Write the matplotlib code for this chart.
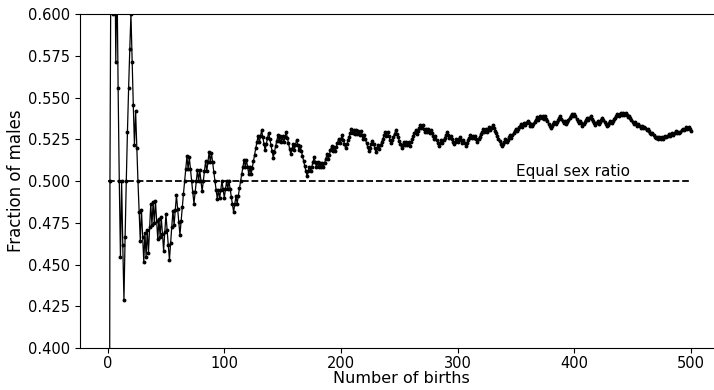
import numpy as np
import matplotlib
matplotlib.use("Agg")
import matplotlib.pyplot as plt

# sex of each birth in order, 1 = male, 0 = female (blocks of 10)
births_str = (
    "0111010100" "0100111111" "0001000010" "0101011010" "1001010011"
    "0001110110" "0011111101" "0000111010" "0111011010" "0000101100"
    "1101000011" "0111111010" "0101111110" "1100011100" "0011110101"
    "0110000110" "1100100000" "0110111001" "0101011101" "1101011101"
    "1000111110" "1010101001" "0000111000" "1101111101" "0001111000"
    "0011010101" "1111011101" "0010101000" "1000110111" "1001000110"
    "1100100111" "1010100111" "1101011011" "0000000011" "1011101111"
    "0111011011" "0010111101" "1010100000" "1110111100" "0101111101"
    "0000100111" "1011000011" "0111000011" "1011111011" "0101001000"
    "0100100101" "0010001000" "1010101101" "1011011010" "1110110100"
)
births = np.array([int(c) for c in births_str])
n_births = np.arange(1, len(births) + 1)
frac_males = np.cumsum(births) / n_births

ratio_label = "Equal sex ratio"

fig = plt.figure(figsize=(7.14, 3.9), dpi=100)
ax = fig.add_axes([0.1115, 0.1077, 0.902, 0.8563])

ax.plot(n_births, frac_males, color="black", lw=0.9, marker="o", markersize=1.8)
ax.plot([0, 500], [0.5, 0.5], "k--", lw=1.3)
ax.text(350, 0.5015, ratio_label, fontsize=11, ha="left", va="bottom")

ax.set_xlim(-24, 528)
ax.set_ylim(0.4, 0.6)
ax.set_yticks(np.arange(0.4, 0.6001, 0.025))
ax.yaxis.set_major_formatter(matplotlib.ticker.FormatStrFormatter("%.3f"))
ax.tick_params(labelsize=10.5)
ax.tick_params(axis="x", pad=2.5)
ax.set_xlabel("Number of births", fontsize=11.5, labelpad=0)
ax.set_ylabel("Fraction of males", fontsize=12, labelpad=2)

fig.savefig("out.png", dpi=100)
